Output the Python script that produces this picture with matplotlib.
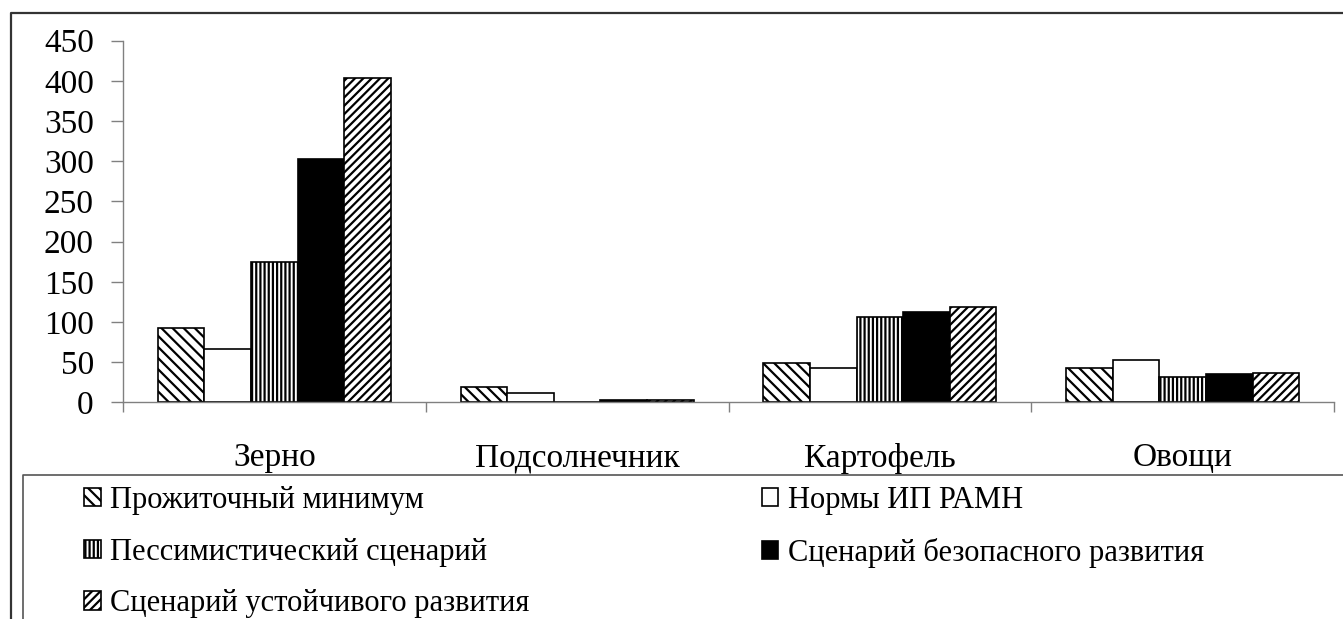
import numpy as np
import matplotlib
matplotlib.use("Agg")
import matplotlib.pyplot as plt
from matplotlib.lines import Line2D

# data
categories = ["Зерно", "Подсолнечник", "Картофель", "Овощи"]
series_names = [
    "Прожиточный минимум",
    "Нормы ИП РАМН",
    "Пессимистический сценарий",
    "Сценарий безопасного развития",
    "Сценарий устойчивого развития",
]
living_min = [93, 19, 49, 43]
ramn_norms = [66, 12, 43, 53]
pessimistic = [175, 0, 106, 32]
safe_dev = [303, 3, 112, 35]
sustainable = [403, 3, 119, 37]
y_ticks = [0, 50, 100, 150, 200, 250, 300, 350, 400, 450]

plt.rcParams['font.family'] = ['Liberation Serif', 'DejaVu Serif']
plt.rcParams['hatch.linewidth'] = 1.6
plt.rcParams['hatch.color'] = 'black'

W, H = 1343, 619
fig = plt.figure(figsize=(W / 100, H / 100), dpi=100)
ax = fig.add_axes([123 / W, 1 - 402.3 / H, (1334 - 123) / W, (402.3 - 40.7) / H])

values = [living_min, ramn_norms, pessimistic, safe_dev, sustainable]
faces = ['white', 'white', 'white', 'black', 'white']
hatches = ['\\\\\\', None, '||||', None, '////']
bar_w = 0.154
x = np.arange(len(categories))

handles = []
for i, (vals, fc, h) in enumerate(zip(values, faces, hatches)):
    bars = ax.bar(x + (i - 2) * bar_w, vals, bar_w, color=fc, edgecolor='black',
                  hatch=h, linewidth=1.2, label=series_names[i])
    handles.append(bars)

ax.set_xlim(-0.5, 3.5)
ax.set_ylim(0, 450)
ax.set_yticks(y_ticks)
ax.set_xticks(x)
ax.set_xticklabels(categories)
ax.set_xticks(np.arange(-0.5, 4.0, 1.0), minor=True)

for side in ['top', 'right']:
    ax.spines[side].set_visible(False)
for side in ['left', 'bottom']:
    ax.spines[side].set_color('#808080')
    ax.spines[side].set_linewidth(1.0)

ax.tick_params(axis='y', direction='out', length=9, width=1.0, color='#808080',
               labelsize=24, pad=12)
ax.tick_params(axis='x', which='major', length=0, labelsize=24, pad=29)
ax.tick_params(axis='x', which='minor', direction='out', length=7, width=1.0, color='#808080')

# outer chart frame and legend frame
fig.add_artist(Line2D([11 / W, 11 / W, 1], [0, 1 - 13 / H, 1 - 13 / H],
                      transform=fig.transFigure, color='#333333', lw=1.6))
fig.add_artist(Line2D([23 / W, 23 / W, 1], [0, 1 - 475 / H, 1 - 475 / H],
                      transform=fig.transFigure, color='#555555', lw=1.2))

order = [0, 2, 4, 1, 3]
fig.legend([handles[k] for k in order], [series_names[k] for k in order],
           ncol=2, loc='upper left', bbox_to_anchor=(84 / W, 1 - 486 / H),
           frameon=False, fontsize=22, handlelength=0.55, handleheight=0.55,
           handletextpad=0.3, labelspacing=0.74, columnspacing=7.6,
           borderaxespad=0, borderpad=0)

fig.savefig("out.png", dpi=100)
